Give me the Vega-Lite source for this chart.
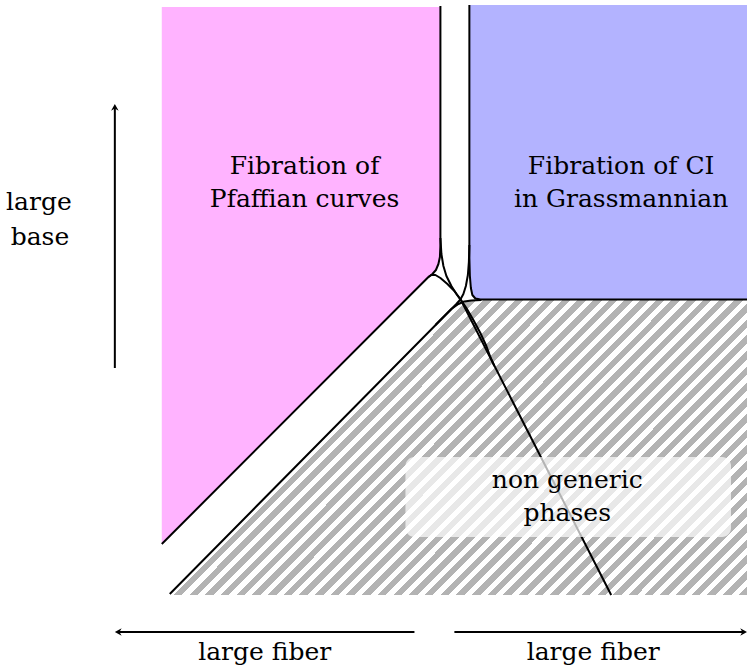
{
  "$schema": "https://vega.github.io/schema/vega-lite/v6.json",
  "width": 748,
  "height": 668,
  "autosize": {"type": "fit", "contains": "padding"},
  "padding": 0,
  "background": "white",
  "config": {"view": {"stroke": null}, "font": "DejaVu Serif"},
  "datasets": {
    "pink": [
      {"x": 162, "y": 7, "y2": 544},
      {"x": 429, "y": 7, "y2": 277},
      {"x": 433, "y": 7, "y2": 274},
      {"x": 436.5, "y": 7, "y2": 270},
      {"x": 439, "y": 7, "y2": 264},
      {"x": 440.5, "y": 7, "y2": 257},
      {"x": 441, "y": 7, "y2": 245}
    ],
    "blue": [
      {"x": 470, "y": 5, "y2": 258},
      {"x": 470.5, "y": 5, "y2": 276},
      {"x": 471.5, "y": 5, "y2": 288},
      {"x": 473, "y": 5, "y2": 295},
      {"x": 476, "y": 5, "y2": 298.5},
      {"x": 481, "y": 5, "y2": 299.5},
      {"x": 748, "y": 5, "y2": 299.5}
    ],
    "hatch": [
      {"x": 170, "y": 595, "y2": 595},
      {"x": 461, "y": 300, "y2": 595},
      {"x": 748, "y": 300, "y2": 595}
    ],
    "curves": [
      {"g": 1, "o": 1, "x": 441, "y": 6},
      {"g": 1, "o": 2, "x": 441, "y": 245},
      {"g": 1, "o": 3, "x": 440.5, "y": 257},
      {"g": 1, "o": 4, "x": 439, "y": 264},
      {"g": 1, "o": 5, "x": 436.5, "y": 270},
      {"g": 1, "o": 6, "x": 433, "y": 274},
      {"g": 1, "o": 7, "x": 429, "y": 277},
      {"g": 1, "o": 8, "x": 162, "y": 544},
      {"g": 2, "o": 1, "x": 441, "y": 238},
      {"g": 2, "o": 2, "x": 442, "y": 254},
      {"g": 2, "o": 3, "x": 444, "y": 266},
      {"g": 2, "o": 4, "x": 447, "y": 276},
      {"g": 2, "o": 5, "x": 452, "y": 286},
      {"g": 2, "o": 6, "x": 457, "y": 294},
      {"g": 2, "o": 7, "x": 462, "y": 301},
      {"g": 2, "o": 8, "x": 612, "y": 595},
      {"g": 3, "o": 1, "x": 429, "y": 277},
      {"g": 3, "o": 2, "x": 432, "y": 275},
      {"g": 3, "o": 3, "x": 436, "y": 275},
      {"g": 3, "o": 4, "x": 441, "y": 278},
      {"g": 3, "o": 5, "x": 448, "y": 284},
      {"g": 3, "o": 6, "x": 455, "y": 291},
      {"g": 3, "o": 7, "x": 461, "y": 299},
      {"g": 3, "o": 8, "x": 467, "y": 308},
      {"g": 3, "o": 9, "x": 474, "y": 320},
      {"g": 3, "o": 10, "x": 481, "y": 333},
      {"g": 3, "o": 11, "x": 487, "y": 346},
      {"g": 3, "o": 12, "x": 491, "y": 357},
      {"g": 3, "o": 13, "x": 495, "y": 366},
      {"g": 4, "o": 1, "x": 470, "y": 5},
      {"g": 4, "o": 2, "x": 470, "y": 258},
      {"g": 4, "o": 3, "x": 470.5, "y": 276},
      {"g": 4, "o": 4, "x": 471.5, "y": 288},
      {"g": 4, "o": 5, "x": 473, "y": 295},
      {"g": 4, "o": 6, "x": 476, "y": 298.5},
      {"g": 4, "o": 7, "x": 481, "y": 299.5},
      {"g": 4, "o": 8, "x": 748, "y": 299.5},
      {"g": 5, "o": 1, "x": 470, "y": 245},
      {"g": 5, "o": 2, "x": 469.5, "y": 262},
      {"g": 5, "o": 3, "x": 468.5, "y": 275},
      {"g": 5, "o": 4, "x": 466.5, "y": 286},
      {"g": 5, "o": 5, "x": 464, "y": 294},
      {"g": 5, "o": 6, "x": 461, "y": 299.5},
      {"g": 5, "o": 7, "x": 457, "y": 304},
      {"g": 5, "o": 8, "x": 170, "y": 594},
      {"g": 6, "o": 1, "x": 482, "y": 300},
      {"g": 6, "o": 2, "x": 472, "y": 300.5},
      {"g": 6, "o": 3, "x": 465, "y": 301.5},
      {"g": 6, "o": 4, "x": 459, "y": 304},
      {"g": 6, "o": 5, "x": 452, "y": 309},
      {"g": 6, "o": 6, "x": 445, "y": 316},
      {"g": 6, "o": 7, "x": 436, "y": 325}
    ],
    "box": [
      {"x": 406, "x2": 732, "y": 457, "y2": 537}
    ],
    "labels": [
      {"t": "Fibration of", "x": 305, "y": 174},
      {"t": "Pfaffian curves", "x": 305, "y": 207},
      {"t": "Fibration of CI", "x": 622, "y": 174},
      {"t": "in Grassmannian", "x": 622, "y": 207},
      {"t": "large", "x": 39, "y": 210},
      {"t": "base", "x": 40, "y": 245},
      {"t": "non generic", "x": 568, "y": 488},
      {"t": "phases", "x": 568, "y": 521},
      {"t": "large fiber", "x": 265, "y": 660},
      {"t": "large fiber", "x": 594, "y": 660}
    ],
    "arrows": [
      {"x": 115, "y": 368, "x2": 115, "y2": 108},
      {"x": 415, "y": 632, "x2": 119, "y2": 632},
      {"x": 455, "y": 632, "x2": 744, "y2": 632}
    ],
    "tips": [
      {"dir": "up", "x": 115, "y": 104},
      {"dir": "left", "x": 115, "y": 632},
      {"dir": "right", "x": 748, "y": 632}
    ]
  },
  "layer": [
    {
      "data": {"name": "pink"},
      "mark": {"type": "area", "fill": "#ffb3ff", "opacity": 1},
      "encoding": {
        "x": {"field": "x", "type": "quantitative", "scale": {"domain": [0, 748], "nice": false, "zero": false}, "axis": null},
        "y": {"field": "y", "type": "quantitative", "scale": {"domain": [0, 668], "nice": false, "zero": false, "reverse": true}, "axis": null},
        "y2": {"field": "y2"}
      }
    },
    {
      "data": {"name": "blue"},
      "mark": {"type": "area", "fill": "#b3b3ff", "opacity": 1},
      "encoding": {
        "x": {"field": "x", "type": "quantitative", "scale": {"domain": [0, 748], "nice": false, "zero": false}, "axis": null},
        "y": {"field": "y", "type": "quantitative", "scale": {"domain": [0, 668], "nice": false, "zero": false, "reverse": true}, "axis": null},
        "y2": {"field": "y2"}
      }
    },
    {
      "data": {"name": "hatch"},
      "mark": {
        "type": "area",
        "opacity": 1,
        "fill": {
          "gradient": "linear", "x1": 0, "y1": 0, "x2": 1.1983, "y2": 0.6116,
          "stops": [
            {"offset": 0, "color": "#b3b3b3"}, {"offset": 0.0098, "color": "#b3b3b3"}, {"offset": 0.0098, "color": "#ffffff"}, {"offset": 0.018, "color": "#ffffff"},
            {"offset": 0.018, "color": "#b3b3b3"}, {"offset": 0.0278, "color": "#b3b3b3"}, {"offset": 0.0278, "color": "#ffffff"}, {"offset": 0.036, "color": "#ffffff"},
            {"offset": 0.036, "color": "#b3b3b3"}, {"offset": 0.0458, "color": "#b3b3b3"}, {"offset": 0.0458, "color": "#ffffff"}, {"offset": 0.054, "color": "#ffffff"},
            {"offset": 0.054, "color": "#b3b3b3"}, {"offset": 0.0638, "color": "#b3b3b3"}, {"offset": 0.0638, "color": "#ffffff"}, {"offset": 0.072, "color": "#ffffff"},
            {"offset": 0.072, "color": "#b3b3b3"}, {"offset": 0.0818, "color": "#b3b3b3"}, {"offset": 0.0818, "color": "#ffffff"}, {"offset": 0.09, "color": "#ffffff"},
            {"offset": 0.09, "color": "#b3b3b3"}, {"offset": 0.0998, "color": "#b3b3b3"}, {"offset": 0.0998, "color": "#ffffff"}, {"offset": 0.108, "color": "#ffffff"},
            {"offset": 0.108, "color": "#b3b3b3"}, {"offset": 0.1178, "color": "#b3b3b3"}, {"offset": 0.1178, "color": "#ffffff"}, {"offset": 0.126, "color": "#ffffff"},
            {"offset": 0.126, "color": "#b3b3b3"}, {"offset": 0.1358, "color": "#b3b3b3"}, {"offset": 0.1358, "color": "#ffffff"}, {"offset": 0.144, "color": "#ffffff"},
            {"offset": 0.144, "color": "#b3b3b3"}, {"offset": 0.1538, "color": "#b3b3b3"}, {"offset": 0.1538, "color": "#ffffff"}, {"offset": 0.162, "color": "#ffffff"},
            {"offset": 0.162, "color": "#b3b3b3"}, {"offset": 0.1718, "color": "#b3b3b3"}, {"offset": 0.1718, "color": "#ffffff"}, {"offset": 0.18, "color": "#ffffff"},
            {"offset": 0.18, "color": "#b3b3b3"}, {"offset": 0.1898, "color": "#b3b3b3"}, {"offset": 0.1898, "color": "#ffffff"}, {"offset": 0.198, "color": "#ffffff"},
            {"offset": 0.198, "color": "#b3b3b3"}, {"offset": 0.2078, "color": "#b3b3b3"}, {"offset": 0.2078, "color": "#ffffff"}, {"offset": 0.216, "color": "#ffffff"},
            {"offset": 0.216, "color": "#b3b3b3"}, {"offset": 0.2258, "color": "#b3b3b3"}, {"offset": 0.2258, "color": "#ffffff"}, {"offset": 0.234, "color": "#ffffff"},
            {"offset": 0.234, "color": "#b3b3b3"}, {"offset": 0.2438, "color": "#b3b3b3"}, {"offset": 0.2438, "color": "#ffffff"}, {"offset": 0.252, "color": "#ffffff"},
            {"offset": 0.252, "color": "#b3b3b3"}, {"offset": 0.2618, "color": "#b3b3b3"}, {"offset": 0.2618, "color": "#ffffff"}, {"offset": 0.27, "color": "#ffffff"},
            {"offset": 0.27, "color": "#b3b3b3"}, {"offset": 0.2798, "color": "#b3b3b3"}, {"offset": 0.2798, "color": "#ffffff"}, {"offset": 0.288, "color": "#ffffff"},
            {"offset": 0.288, "color": "#b3b3b3"}, {"offset": 0.2978, "color": "#b3b3b3"}, {"offset": 0.2978, "color": "#ffffff"}, {"offset": 0.306, "color": "#ffffff"},
            {"offset": 0.306, "color": "#b3b3b3"}, {"offset": 0.3158, "color": "#b3b3b3"}, {"offset": 0.3158, "color": "#ffffff"}, {"offset": 0.324, "color": "#ffffff"},
            {"offset": 0.324, "color": "#b3b3b3"}, {"offset": 0.3338, "color": "#b3b3b3"}, {"offset": 0.3338, "color": "#ffffff"}, {"offset": 0.342, "color": "#ffffff"},
            {"offset": 0.342, "color": "#b3b3b3"}, {"offset": 0.3518, "color": "#b3b3b3"}, {"offset": 0.3518, "color": "#ffffff"}, {"offset": 0.36, "color": "#ffffff"},
            {"offset": 0.36, "color": "#b3b3b3"}, {"offset": 0.3698, "color": "#b3b3b3"}, {"offset": 0.3698, "color": "#ffffff"}, {"offset": 0.378, "color": "#ffffff"},
            {"offset": 0.378, "color": "#b3b3b3"}, {"offset": 0.3878, "color": "#b3b3b3"}, {"offset": 0.3878, "color": "#ffffff"}, {"offset": 0.396, "color": "#ffffff"},
            {"offset": 0.396, "color": "#b3b3b3"}, {"offset": 0.4058, "color": "#b3b3b3"}, {"offset": 0.4058, "color": "#ffffff"}, {"offset": 0.414, "color": "#ffffff"},
            {"offset": 0.414, "color": "#b3b3b3"}, {"offset": 0.4238, "color": "#b3b3b3"}, {"offset": 0.4238, "color": "#ffffff"}, {"offset": 0.432, "color": "#ffffff"},
            {"offset": 0.432, "color": "#b3b3b3"}, {"offset": 0.4418, "color": "#b3b3b3"}, {"offset": 0.4418, "color": "#ffffff"}, {"offset": 0.45, "color": "#ffffff"},
            {"offset": 0.45, "color": "#b3b3b3"}, {"offset": 0.4598, "color": "#b3b3b3"}, {"offset": 0.4598, "color": "#ffffff"}, {"offset": 0.468, "color": "#ffffff"},
            {"offset": 0.468, "color": "#b3b3b3"}, {"offset": 0.4778, "color": "#b3b3b3"}, {"offset": 0.4778, "color": "#ffffff"}, {"offset": 0.486, "color": "#ffffff"},
            {"offset": 0.486, "color": "#b3b3b3"}, {"offset": 0.4958, "color": "#b3b3b3"}, {"offset": 0.4958, "color": "#ffffff"}, {"offset": 0.504, "color": "#ffffff"},
            {"offset": 0.504, "color": "#b3b3b3"}, {"offset": 0.5138, "color": "#b3b3b3"}, {"offset": 0.5138, "color": "#ffffff"}, {"offset": 0.522, "color": "#ffffff"},
            {"offset": 0.522, "color": "#b3b3b3"}, {"offset": 0.5318, "color": "#b3b3b3"}, {"offset": 0.5318, "color": "#ffffff"}, {"offset": 0.54, "color": "#ffffff"},
            {"offset": 0.54, "color": "#b3b3b3"}, {"offset": 0.5498, "color": "#b3b3b3"}, {"offset": 0.5498, "color": "#ffffff"}, {"offset": 0.558, "color": "#ffffff"},
            {"offset": 0.558, "color": "#b3b3b3"}, {"offset": 0.5678, "color": "#b3b3b3"}, {"offset": 0.5678, "color": "#ffffff"}, {"offset": 0.576, "color": "#ffffff"},
            {"offset": 0.576, "color": "#b3b3b3"}, {"offset": 0.5858, "color": "#b3b3b3"}, {"offset": 0.5858, "color": "#ffffff"}, {"offset": 0.594, "color": "#ffffff"},
            {"offset": 0.594, "color": "#b3b3b3"}, {"offset": 0.6038, "color": "#b3b3b3"}, {"offset": 0.6038, "color": "#ffffff"}, {"offset": 0.612, "color": "#ffffff"},
            {"offset": 0.612, "color": "#b3b3b3"}, {"offset": 0.6218, "color": "#b3b3b3"}, {"offset": 0.6218, "color": "#ffffff"}, {"offset": 0.63, "color": "#ffffff"},
            {"offset": 0.63, "color": "#b3b3b3"}, {"offset": 0.6398, "color": "#b3b3b3"}, {"offset": 0.6398, "color": "#ffffff"}, {"offset": 0.648, "color": "#ffffff"},
            {"offset": 0.648, "color": "#b3b3b3"}, {"offset": 0.6578, "color": "#b3b3b3"}, {"offset": 0.6578, "color": "#ffffff"}, {"offset": 0.666, "color": "#ffffff"},
            {"offset": 0.666, "color": "#b3b3b3"}, {"offset": 0.6758, "color": "#b3b3b3"}, {"offset": 0.6758, "color": "#ffffff"}, {"offset": 0.684, "color": "#ffffff"},
            {"offset": 0.684, "color": "#b3b3b3"}, {"offset": 0.6938, "color": "#b3b3b3"}, {"offset": 0.6938, "color": "#ffffff"}, {"offset": 0.702, "color": "#ffffff"},
            {"offset": 0.702, "color": "#b3b3b3"}, {"offset": 0.7118, "color": "#b3b3b3"}, {"offset": 0.7118, "color": "#ffffff"}, {"offset": 0.72, "color": "#ffffff"},
            {"offset": 0.72, "color": "#b3b3b3"}, {"offset": 0.7298, "color": "#b3b3b3"}, {"offset": 0.7298, "color": "#ffffff"}, {"offset": 0.738, "color": "#ffffff"},
            {"offset": 0.738, "color": "#b3b3b3"}, {"offset": 0.7478, "color": "#b3b3b3"}, {"offset": 0.7478, "color": "#ffffff"}, {"offset": 0.756, "color": "#ffffff"},
            {"offset": 0.756, "color": "#b3b3b3"}, {"offset": 0.7658, "color": "#b3b3b3"}, {"offset": 0.7658, "color": "#ffffff"}, {"offset": 0.774, "color": "#ffffff"},
            {"offset": 0.774, "color": "#b3b3b3"}, {"offset": 0.7838, "color": "#b3b3b3"}, {"offset": 0.7838, "color": "#ffffff"}, {"offset": 0.792, "color": "#ffffff"},
            {"offset": 0.792, "color": "#b3b3b3"}, {"offset": 0.8018, "color": "#b3b3b3"}, {"offset": 0.8018, "color": "#ffffff"}, {"offset": 0.81, "color": "#ffffff"},
            {"offset": 0.81, "color": "#b3b3b3"}, {"offset": 0.8198, "color": "#b3b3b3"}, {"offset": 0.8198, "color": "#ffffff"}, {"offset": 0.828, "color": "#ffffff"},
            {"offset": 0.828, "color": "#b3b3b3"}, {"offset": 0.8378, "color": "#b3b3b3"}, {"offset": 0.8378, "color": "#ffffff"}, {"offset": 0.846, "color": "#ffffff"},
            {"offset": 0.846, "color": "#b3b3b3"}, {"offset": 0.8558, "color": "#b3b3b3"}, {"offset": 0.8558, "color": "#ffffff"}, {"offset": 0.864, "color": "#ffffff"},
            {"offset": 0.864, "color": "#b3b3b3"}, {"offset": 0.8738, "color": "#b3b3b3"}, {"offset": 0.8738, "color": "#ffffff"}, {"offset": 0.882, "color": "#ffffff"},
            {"offset": 0.882, "color": "#b3b3b3"}, {"offset": 0.8918, "color": "#b3b3b3"}, {"offset": 0.8918, "color": "#ffffff"}, {"offset": 0.9, "color": "#ffffff"},
            {"offset": 0.9, "color": "#b3b3b3"}, {"offset": 0.9098, "color": "#b3b3b3"}, {"offset": 0.9098, "color": "#ffffff"}, {"offset": 0.918, "color": "#ffffff"},
            {"offset": 0.918, "color": "#b3b3b3"}, {"offset": 0.9278, "color": "#b3b3b3"}, {"offset": 0.9278, "color": "#ffffff"}, {"offset": 0.936, "color": "#ffffff"},
            {"offset": 0.936, "color": "#b3b3b3"}, {"offset": 0.9458, "color": "#b3b3b3"}, {"offset": 0.9458, "color": "#ffffff"}, {"offset": 0.954, "color": "#ffffff"},
            {"offset": 0.954, "color": "#b3b3b3"}, {"offset": 0.9638, "color": "#b3b3b3"}, {"offset": 0.9638, "color": "#ffffff"}, {"offset": 0.972, "color": "#ffffff"},
            {"offset": 0.972, "color": "#b3b3b3"}, {"offset": 0.9818, "color": "#b3b3b3"}, {"offset": 0.9818, "color": "#ffffff"}, {"offset": 0.99, "color": "#ffffff"},
            {"offset": 0.99, "color": "#b3b3b3"}, {"offset": 0.9998, "color": "#b3b3b3"}, {"offset": 0.9998, "color": "#ffffff"}, {"offset": 1, "color": "#ffffff"}
          ]
        }
      },
      "encoding": {
        "x": {"field": "x", "type": "quantitative", "scale": {"domain": [0, 748], "nice": false, "zero": false}, "axis": null},
        "y": {"field": "y", "type": "quantitative", "scale": {"domain": [0, 668], "nice": false, "zero": false, "reverse": true}, "axis": null},
        "y2": {"field": "y2"}
      }
    },
    {
      "data": {"name": "curves"},
      "mark": {"type": "line", "color": "black", "strokeWidth": 2, "strokeJoin": "round", "strokeCap": "butt", "opacity": 1},
      "encoding": {
        "x": {"field": "x", "type": "quantitative", "scale": {"domain": [0, 748], "nice": false, "zero": false}, "axis": null},
        "y": {"field": "y", "type": "quantitative", "scale": {"domain": [0, 668], "nice": false, "zero": false, "reverse": true}, "axis": null},
        "detail": {"field": "g", "type": "nominal"},
        "order": {"field": "o", "type": "quantitative"}
      }
    },
    {
      "data": {"name": "box"},
      "mark": {"type": "rect", "fill": "white", "opacity": 0.7, "cornerRadius": 9},
      "encoding": {
        "x": {"field": "x", "type": "quantitative", "scale": {"domain": [0, 748], "nice": false, "zero": false}, "axis": null},
        "x2": {"field": "x2"},
        "y": {"field": "y", "type": "quantitative", "scale": {"domain": [0, 668], "nice": false, "zero": false, "reverse": true}, "axis": null},
        "y2": {"field": "y2"}
      }
    },
    {
      "data": {"name": "labels"},
      "mark": {"type": "text", "font": "DejaVu Serif", "fontSize": 25, "align": "center", "baseline": "alphabetic", "color": "black"},
      "encoding": {
        "x": {"field": "x", "type": "quantitative", "scale": {"domain": [0, 748], "nice": false, "zero": false}, "axis": null},
        "y": {"field": "y", "type": "quantitative", "scale": {"domain": [0, 668], "nice": false, "zero": false, "reverse": true}, "axis": null},
        "text": {"field": "t", "type": "nominal"}
      }
    },
    {
      "data": {"name": "arrows"},
      "mark": {"type": "rule", "color": "black", "strokeWidth": 2},
      "encoding": {
        "x": {"field": "x", "type": "quantitative", "scale": {"domain": [0, 748], "nice": false, "zero": false}, "axis": null},
        "x2": {"field": "x2"},
        "y": {"field": "y", "type": "quantitative", "scale": {"domain": [0, 668], "nice": false, "zero": false, "reverse": true}, "axis": null},
        "y2": {"field": "y2"}
      }
    },
    {
      "data": {"name": "tips"},
      "mark": {"type": "point", "filled": true, "color": "black", "opacity": 1, "size": 64, "strokeWidth": 0},
      "encoding": {
        "x": {"field": "x", "type": "quantitative", "scale": {"domain": [0, 748], "nice": false, "zero": false}, "axis": null},
        "y": {"field": "y", "type": "quantitative", "scale": {"domain": [0, 668], "nice": false, "zero": false, "reverse": true}, "axis": null},
        "shape": {
          "field": "dir", "type": "nominal", "legend": null,
          "scale": {
            "domain": ["up", "left", "right"],
            "range": ["M0,0 L-0.95,1.7 L0,1.15 L0.95,1.7 Z", "M0,0 L1.7,-0.95 L1.15,0 L1.7,0.95 Z", "M0,0 L-1.7,-0.95 L-1.15,0 L-1.7,0.95 Z"]
          }
        }
      }
    }
  ]
}
